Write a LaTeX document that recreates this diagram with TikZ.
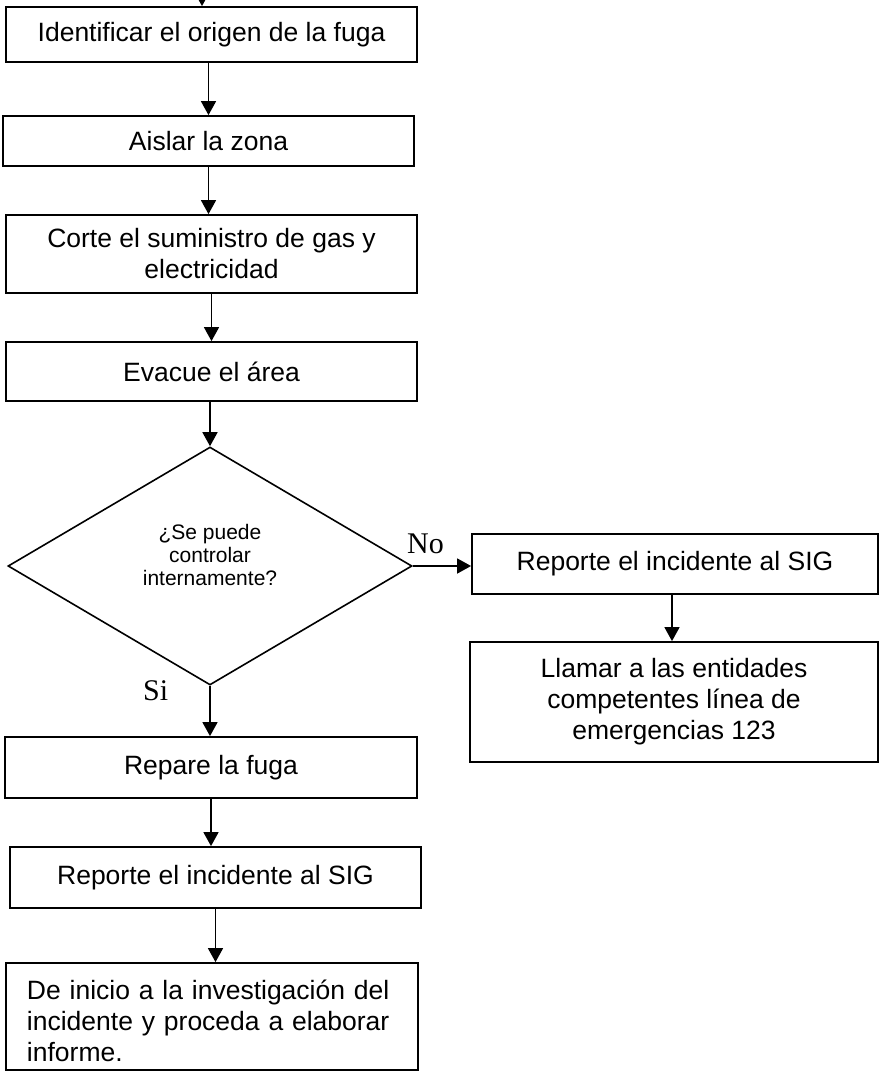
\documentclass[tikz,border=0pt]{standalone}
\usepackage{fontspec}
\setmainfont{Liberation Sans}
\newfontfamily\serifa{Liberation Serif}
\usetikzlibrary{arrows.meta,shapes.geometric}

\begin{document}
\begin{tikzpicture}[x=1pt,y=-1pt,
    caja/.style={draw,line width=1.8pt,minimum width=411pt,inner sep=0pt,align=center,font=\fontsize{26.5}{31}\selectfont},
    decision/.style={draw,diamond,line width=1.6pt,minimum width=404pt,minimum height=238pt,inner sep=0pt},
    flecha/.style={line width=1.6pt,-{Triangle[length=14pt,width=15pt]}},
    etiqueta/.style={anchor=base west,inner sep=0pt,font=\serifa\fontsize{30}{36}\selectfont}]
    \useasboundingbox (0,0) rectangle (879,1072);

    % Main column
    \coordinate (entrada) at (202,-30);
    \node[caja,minimum height=55pt] (origen) at (211.5,34.5) {Identificar el origen de la fuga};
    \node[caja,minimum height=50pt] (aislar) at (208.5,141) {Aislar la zona};
    \node[caja,minimum height=78pt] (corte) at (211.5,254) {Corte el suministro de gas y\\electricidad};
    \node[caja,minimum height=59pt] (evacue) at (211.5,371.5) {Evacue el área};
    \node[decision,label={[align=center,font=\fontsize{21}{23}\selectfont,yshift=11pt]center:{¿Se puede\\controlar\\internamente?}}] (control) at (210,566) {};
    \node[caja,minimum width=412pt,minimum height=61pt] (repare) at (211,767.5) {Repare la fuga};
    \node[caja,minimum height=61pt] (reporteA) at (215.5,877.5) {Reporte el incidente al SIG};
    \node[caja,minimum width=412pt,minimum height=107pt,text width=370pt,align=left] (informe) at (212,1016.5)
        {\rule{0pt}{28pt}De inicio a la investigación del\\incidente y proceda a elaborar\\informe.};

    % Right column
    \node[caja,minimum width=406pt,minimum height=60pt] (reporteB) at (675,564) {Reporte el incidente al SIG};
    \node[caja,minimum width=408pt,minimum height=120pt] (llamar) at (674,702)
        {Llamar a las entidades\\competentes línea de\\emergencias 123};

    % Labels
    \node[etiqueta] (no) at (407,553) {No};
    \node[etiqueta] (si) at (143,700) {Si};

    % Arrows
    \draw[flecha] (entrada) -- (entrada |- origen.north);
    \draw[flecha] (origen.south -| aislar) -- (aislar.north);
    \draw[flecha] (aislar.south) -- (aislar.south |- corte.north);
    \draw[flecha] (corte.south) -- (corte.south |- evacue.north);
    \draw[flecha] (evacue.south -| control) -- (control.north);
    \draw[flecha] (control.east) -- (control.east -| reporteB.west);
    \draw[flecha] (reporteB.south -| 672,0) -- (672,0 |- llamar.north);
    \draw[flecha] (control.south) -- (control.south |- repare.north);
    \draw[flecha] (repare.south) -- (repare.south |- reporteA.north);
    \draw[flecha] (reporteA.south) -- (reporteA.south |- informe.north);
\end{tikzpicture}
\end{document}
